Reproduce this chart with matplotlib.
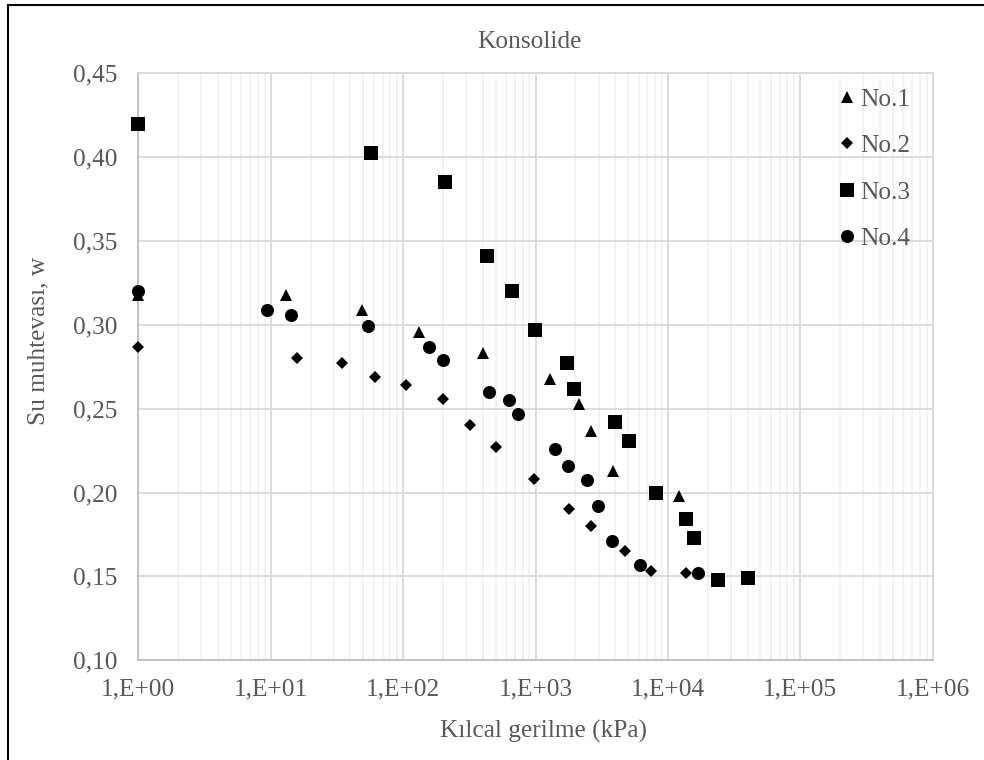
import matplotlib.pyplot as plt
import numpy as np
from matplotlib.ticker import FixedLocator, FuncFormatter, LogLocator, NullFormatter
from matplotlib.lines import Line2D

# No.1 .. No.4: kilcal gerilme (kPa) ve su muhtevasi
x1 = [1.0, 13.0, 49.2, 132.5, 403, 1287, 2142, 2625, 3870, 12070]
w1 = [0.318, 0.318, 0.309, 0.296, 0.283, 0.268, 0.253, 0.237, 0.213, 0.198]

x2 = [1.0, 15.7, 34.4, 61.3, 104.6, 200, 320, 500, 975, 1784, 2617, 4744, 7413, 13620]
w2 = [0.287, 0.280, 0.277, 0.269, 0.264, 0.256, 0.240, 0.227, 0.208, 0.190, 0.180,
      0.165, 0.153, 0.152]

x3 = [1.0, 56.9, 207, 428, 661, 991, 1721, 1944, 3984, 5083, 8130, 13700, 15740,
      23770, 40080]
w3 = [0.420, 0.4025, 0.385, 0.341, 0.320, 0.297, 0.277, 0.262, 0.242, 0.231, 0.200,
      0.184, 0.173, 0.148, 0.149]

x4 = [1.0, 9.43, 14.2, 54.6, 157.7, 199, 448, 631, 741, 1403, 1750, 2461, 2991,
      3765, 6156, 16980]
w4 = [0.320, 0.309, 0.306, 0.2995, 0.287, 0.279, 0.260, 0.255, 0.247, 0.226, 0.216,
      0.2075, 0.192, 0.171, 0.157, 0.152]

etiketler = ['No.1', 'No.2', 'No.3', 'No.4']

plt.rcParams['font.family'] = ['Liberation Serif', 'DejaVu Serif']
gri = '#595959'
fs = 18.3

fig = plt.figure(figsize=(9.84, 7.6), dpi=100)
ax = fig.add_axes([138.3 / 984, 1 - 660.3 / 760, (932.7 - 138.3) / 984, (660.3 - 73.3) / 760])

ax.plot(x1, w1, '^', color='black', ms=8.6, mew=0, label=etiketler[0], zorder=3, clip_on=False)
ax.plot(x2, w2, 'D', color='black', ms=6.6, mew=0, label=etiketler[1], zorder=3, clip_on=False)
ax.plot(x3, w3, 's', color='black', ms=9.7, mew=0, label=etiketler[2], zorder=3, clip_on=False)
ax.plot(x4, w4, 'o', color='black', ms=9.4, mew=0, label=etiketler[3], zorder=3, clip_on=False)

ax.set_xscale('log')
ax.set_xlim(1, 1e6)
ax.set_ylim(0.10, 0.45)
ax.xaxis.set_major_locator(FixedLocator([10.0 ** k for k in range(7)]))
ax.xaxis.set_minor_locator(LogLocator(base=10, subs=np.arange(2, 10)))
ax.xaxis.set_minor_formatter(NullFormatter())
ax.xaxis.set_major_formatter(FuncFormatter(lambda v, p: '1,E+%02d' % int(round(np.log10(v)))))
ax.yaxis.set_major_locator(FixedLocator(np.arange(0.10, 0.451, 0.05)))
ax.yaxis.set_major_formatter(FuncFormatter(lambda v, p: ('%.2f' % v).replace('.', ',')))

ax.grid(True, which='major', color='#d9d9d9', lw=1.3)
ax.grid(True, which='minor', axis='x', color='#f0f0f0', lw=1.1)
ax.set_axisbelow(True)
for s in ax.spines.values():
    s.set_color('#d9d9d9')
    s.set_linewidth(1.3)
ax.spines['left'].set_color('#bfbfbf')
ax.spines['bottom'].set_color('#bfbfbf')
ax.tick_params(which='both', length=0, labelsize=fs, labelcolor=gri)
ax.tick_params(axis='x', pad=13)
ax.tick_params(axis='y', pad=15)

fig.text(529 / 984, 1 - 42 / 760, 'Konsolide', ha='center', va='center', fontsize=fs, color=gri)
fig.text(543 / 984, 1 - 731 / 760, 'Kılcal gerilme (kPa)', ha='center', va='center', fontsize=fs, color=gri)
fig.text(38 / 984, 1 - 341 / 760, 'Su muhtevası, w', ha='center', va='center', rotation=90,
         fontsize=fs, color=gri)

leg = ax.legend(loc='upper left', bbox_to_anchor=(839.5 / 984, 1 - 88 / 760),
                bbox_transform=fig.transFigure, frameon=False, fontsize=fs,
                handlelength=0.6, handletextpad=0.22, labelspacing=0.93, borderpad=0,
                borderaxespad=0)
for t in leg.get_texts():
    t.set_color(gri)

# dis cerceve (sol ve ust)
fig.add_artist(Line2D([8 / 984, 8 / 984], [0, 1 - 5 / 760], transform=fig.transFigure,
                      color='black', lw=1.5))
fig.add_artist(Line2D([8 / 984, 1], [1 - 5 / 760, 1 - 5 / 760], transform=fig.transFigure,
                      color='black', lw=1.5))

fig.savefig('out.png', dpi=100)
